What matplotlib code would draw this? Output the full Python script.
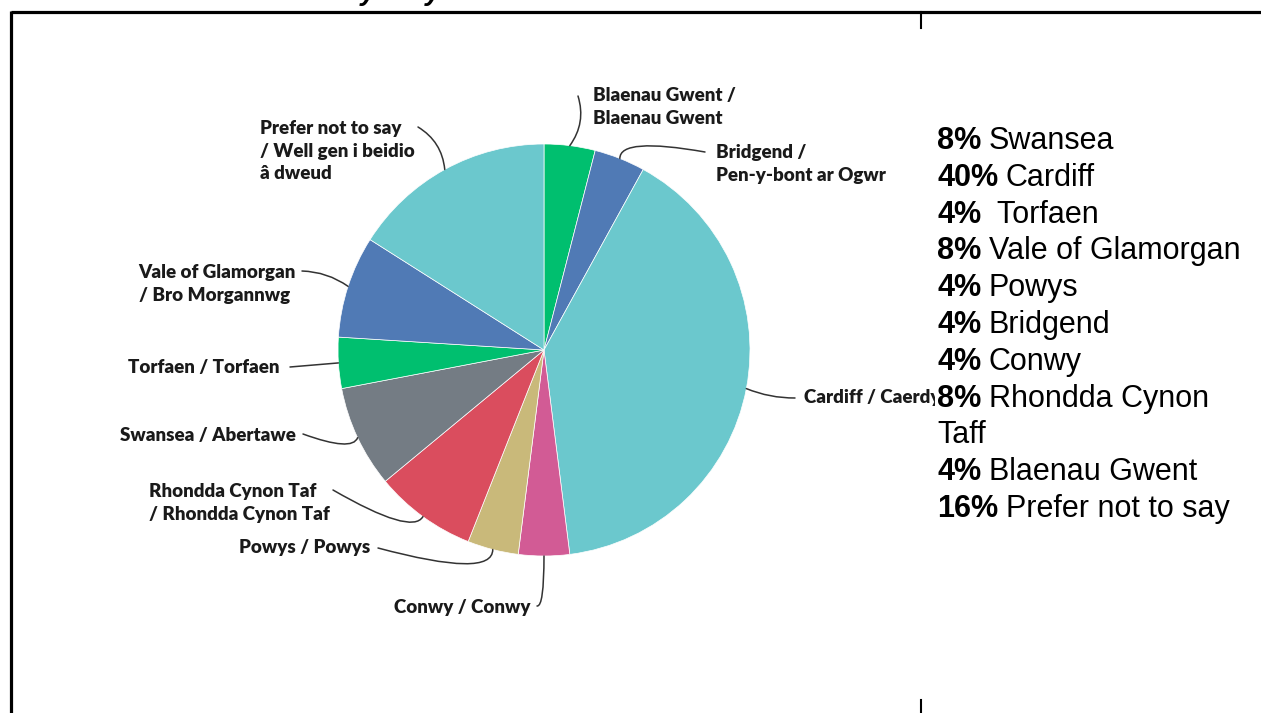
import numpy as np
import matplotlib
matplotlib.use("Agg")
import matplotlib.pyplot as plt
from matplotlib.patches import Rectangle

# slices, clockwise from 12 o'clock
regions = ['Blaenau Gwent', 'Bridgend', 'Cardiff', 'Conwy', 'Powys',
           'Rhondda Cynon Taf', 'Swansea', 'Torfaen', 'Vale of Glamorgan',
           'Prefer not to say']
shares = [4, 4, 40, 4, 4, 8, 8, 4, 8, 16]
pie_labels = ['Blaenau Gwent /\nBlaenau Gwent',
              'Bridgend /\nPen-y-bont ar Ogwr',
              'Cardiff / Caerdydd',
              'Conwy / Conwy',
              'Powys / Powys',
              'Rhondda Cynon Taf\n/ Rhondda Cynon Taf',
              'Swansea / Abertawe',
              'Torfaen / Torfaen',
              'Vale of Glamorgan\n/ Bro Morgannwg',
              'Prefer not to say\n/ Well gen i beidio\nâ dweud']
colours = ['#00BF6F', '#507AB5', '#6BC8CD', '#D25B95', '#C9B97A',
           '#DA4D5E', '#747C84', '#00BF6F', '#507AB5', '#6BC8CD']

# summary list on the right
list_pct = ['8%', '40%', '4%', '8%', '4%', '4%', '4%', '8%', '4%', '16%']
list_names = ['Swansea', 'Cardiff', ' Torfaen', 'Vale of Glamorgan', 'Powys',
              'Bridgend', 'Conwy', 'Rhondda Cynon\nTaff', 'Blaenau Gwent',
              'Prefer not to say']

W, H = 1261, 713
fig = plt.figure(figsize=(W / 100, H / 100), dpi=100)
ax = fig.add_axes([0, 0, 1, 1])

cx, cy, R = 544, 350, 206
# y axis runs downward, so counterclock here turns clockwise on screen
wedges, _ = ax.pie(shares, colors=colours, startangle=-90, counterclock=True,
                   center=(cx, cy), radius=R, frame=True,
                   wedgeprops=dict(edgecolor='white', linewidth=0.5))
ax.set_xlim(0, W)
ax.set_ylim(H, 0)
ax.set_aspect('equal')
ax.axis('off')

# label text position, alignment, leader end point, connection style
label_layout = [
    ((593, 107), 'left', (578, 96), 'arc3,rad=-0.25'),
    ((716, 164), 'left', (705, 152), 'angle3,angleA=170,angleB=90'),
    ((804, 398), 'left', (795, 398), 'arc3,rad=-0.1'),
    ((530, 607), 'right', (537, 606), 'angle3,angleA=-10,angleB=90'),
    ((370, 548), 'right', (378, 548), 'angle3,angleA=-15,angleB=90'),
    ((330, 503), 'right', (333, 490), 'angle3,angleA=-30,angleB=60'),
    ((296, 435), 'right', (303, 434), 'angle3,angleA=-20,angleB=70'),
    ((280, 367), 'right', (290, 367), 'arc3,rad=0'),
    ((296, 284), 'right', (302, 271), 'arc3,rad=-0.15'),
    ((260, 151), 'left', (418, 127), 'arc3,rad=-0.25'),
]

lab_font = dict(family=['Lato', 'DejaVu Sans'], fontweight='heavy', fontsize=13.5,
                color='#1a1a1a', linespacing=1.38)
for w, txt, (tpos, ha, end, cs) in zip(wedges, pie_labels, label_layout):
    mid = np.deg2rad((w.theta1 + w.theta2) / 2)
    edge = (cx + R * np.cos(mid), cy + R * np.sin(mid))
    ax.text(tpos[0], tpos[1], txt, ha=ha, va='center', multialignment='left',
            zorder=2, **lab_font)
    ax.annotate('', xy=edge, xytext=end,
                arrowprops=dict(arrowstyle='-', connectionstyle=cs, color='#333333',
                                lw=1.1, shrinkA=0, shrinkB=0), zorder=2)

# white panel behind the list hides the overrun of the Cardiff label
ax.add_patch(Rectangle((935, 118), W - 935, 420, facecolor='white',
                       edgecolor='none', zorder=3))

y = 141
for pct, name in zip(list_pct, list_names):
    t = ax.text(937, y, pct, fontsize=22, fontweight='bold', family='Liberation Sans',
                va='center', ha='left', zorder=4)
    ax.annotate(name.split('\n')[0], xy=(1, 0), xycoords=t, xytext=(5.5, 0),
                textcoords='offset points', va='bottom', ha='left', fontsize=22,
                family='Liberation Sans', zorder=4)
    if '\n' in name:
        y += 36.8
        ax.text(937, y, name.split('\n')[1], fontsize=22, family='Liberation Sans',
                va='center', ha='left', zorder=4)
    y += 36.8

# cut-off question heading and table frame
ax.text(95, 0.0, 'Which local authority do you live in?', fontsize=20,
        fontweight='bold', fontstyle='italic', family='Liberation Sans',
        va='baseline', ha='left', color='black')
ax.plot([10.5, W], [11.5, 11.5], color='black', lw=2.3, solid_capstyle='butt')
ax.plot([10.5, 10.5], [10.5, H], color='black', lw=2.3, solid_capstyle='butt')
ax.plot([921, 921], [11.5, 28], color='black', lw=1.5)
ax.plot([921, 921], [700, H], color='black', lw=1.5)

fig.savefig('out.png', dpi=100)
